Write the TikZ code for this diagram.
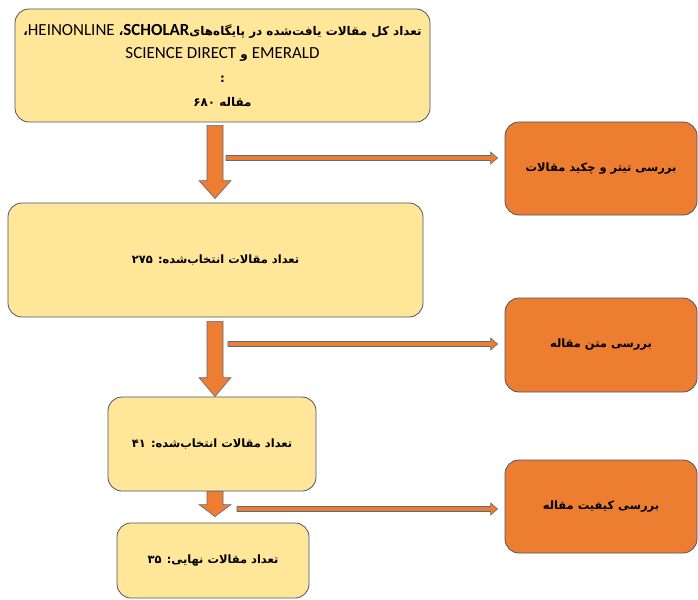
\documentclass[tikz,border=0pt]{standalone}
\usepackage{fontspec}
\usetikzlibrary{calc}
\TeXXeTstate=1
\newfontfamily\fa[Script=Arabic]{DejaVu Sans}
\newfontfamily\lat{Carlito}
\newcommand\latin[1]{{\lat\mdseries\fontsize{17}{24}\selectfont #1}}
\newcommand\latinb[1]{{\lat\bfseries\fontsize{17}{24}\selectfont #1}}
\definecolor{ylw}{HTML}{FFE699}
\definecolor{org}{HTML}{ED7D31}
\definecolor{edgec}{HTML}{4B5668}
\definecolor{arrowedge}{HTML}{5A6B80}
\begin{document}
\begin{tikzpicture}[x=1bp,y=-1bp,
  ybox/.style={draw=edgec, line width=0.8bp, fill=ylw, rounded corners=14bp, inner sep=0pt, align=center,
    font=\fa\bfseries\fontsize{11.5}{24}\selectfont},
  obox/.style={draw=edgec, line width=0.8bp, fill=org, rounded corners=14bp, inner sep=0pt, align=center,
    font=\fa\bfseries\fontsize{11.5}{24}\selectfont},
  barrow/.style={draw=arrowedge, line width=0.6bp, fill=org, line join=miter}]
\useasboundingbox (0,0) rectangle (698,600);
\clip (0,0) rectangle (698,600);
\fill[white] (0,0) rectangle (698,600);

% yellow boxes
\node[ybox, minimum width=415bp, minimum height=113bp, font=\fa\bfseries\fontsize{12}{24}\selectfont] (b1) at (222.5,65.5)
  {\beginR تعداد کل مقالات یافت‌شده در پایگاه‌های\beginL\latinb{SCHOLAR}\endL، \beginL\latin{HEINONLINE}\endL،\endR\\
   \beginR\beginL\latin{EMERALD}\endL{} و \beginL\latin{SCIENCE DIRECT}\endL\endR\\
   :\\
   \beginR مقاله ۶۸۰\endR};
\node[ybox, minimum width=415bp, minimum height=114bp] (b2) at (215.5,260)
  {\beginR تعداد مقالات انتخاب‌شده: ۲۷۵\endR};
\node[ybox, minimum width=208bp, minimum height=94bp] (b3) at (212,444)
  {\beginR تعداد مقالات انتخاب‌شده: ۴۱\endR};
\node[ybox, minimum width=192bp, minimum height=75bp] (b4) at (213,560.5)
  {\beginR تعداد مقالات نهایی: ۳۵\endR};

% orange boxes
\node[obox, minimum width=192bp, minimum height=93bp] (o1) at (601,168.5)
  {\beginR بررسی تیتر و چکید مقالات\endR};
\node[obox, minimum width=192bp, minimum height=94bp] (o2) at (601,345)
  {\beginR بررسی متن مقاله\endR};
\node[obox, minimum width=192bp, minimum height=93bp] (o3) at (601,506.5)
  {\beginR بررسی کیفیت مقاله\endR};

% vertical block arrows
\coordinate (ax) at (215,0);
\draw[barrow] let \p1=($(b1.south -| ax)+(0,3)$), \p2=($(b2.north -| ax)+(0,-4)$) in
  (\x1-8bp,\y1) -- (\x1+8bp,\y1) -- (\x1+8bp,\y2+18bp) -- (\x1+16bp,\y2+18bp) -- (\x1,\y2)
  -- (\x1-16bp,\y2+18bp) -- (\x1-8bp,\y2+18bp) -- cycle;
\draw[barrow] let \p1=($(b2.south -| ax)+(0,4)$), \p2=(b3.north -| ax) in
  (\x1-8bp,\y1) -- (\x1+8bp,\y1) -- (\x1+8bp,\y2+19bp) -- (\x1+16bp,\y2+19bp) -- (\x1,\y2)
  -- (\x1-16bp,\y2+19bp) -- (\x1-8bp,\y2+19bp) -- cycle;
\draw[barrow] let \p1=(b3.south -| ax), \p2=($(b4.north -| ax)+(0,-6)$) in
  (\x1-8bp,\y1) -- (\x1+8bp,\y1) -- (\x1+8bp,\y2+12bp) -- (\x1+16bp,\y2+12bp) -- (\x1,\y2)
  -- (\x1-16bp,\y2+12bp) -- (\x1-8bp,\y2+12bp) -- cycle;

% horizontal arrows
\coordinate (h1) at (226,158);
\coordinate (h2) at (228,344);
\coordinate (h3) at (237,509);
\foreach \s/\t in {h1/o1, h2/o2, h3/o3}{
  \draw[barrow] let \p1=(\s), \p2=($(\s -| \t.west)+(-7,0)$) in
    (\x1,\y1+2.5bp) -- (\x2-7bp,\y1+2.5bp) -- (\x2-7bp,\y1+6bp) -- (\x2,\y1)
    -- (\x2-7bp,\y1-6bp) -- (\x2-7bp,\y1-2.5bp) -- (\x1,\y1-2.5bp) -- cycle;
}
\end{tikzpicture}
\end{document}
